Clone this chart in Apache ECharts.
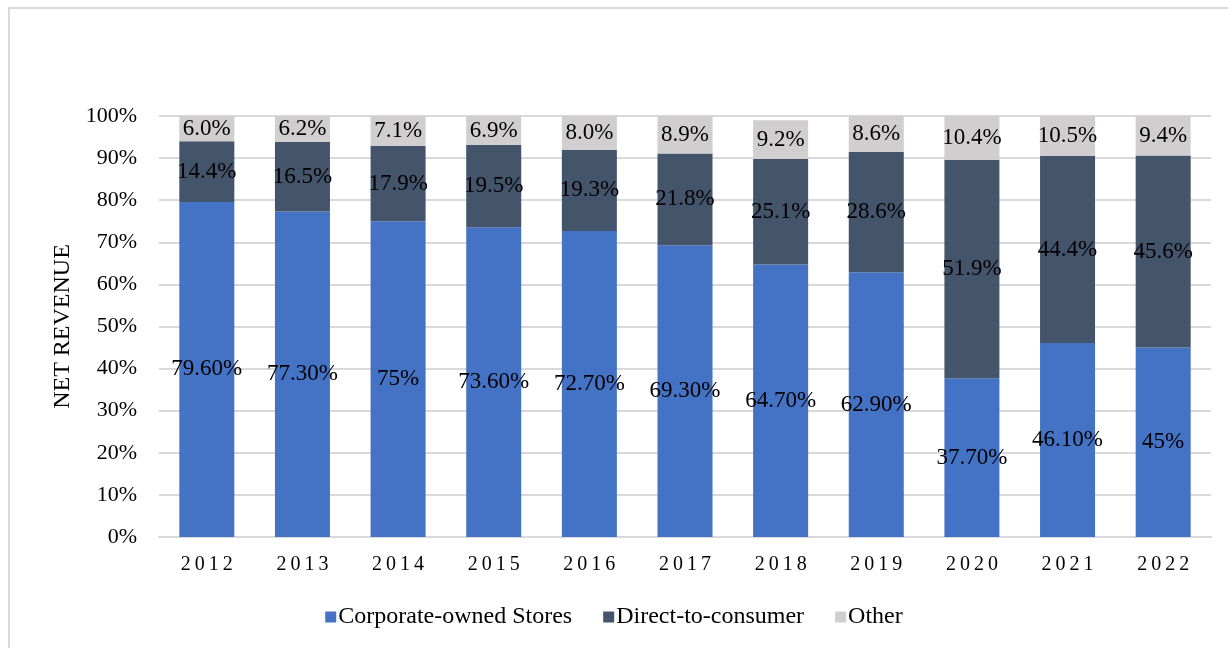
<!DOCTYPE html>
<html>
<head>
<meta charset="utf-8">
<script src="https://cdn.jsdelivr.net/npm/echarts@6/dist/echarts.min.js"></script>
<style>
  html, body { margin: 0; padding: 0; background: #fff; }
  #frame { position: absolute; left: 8px; top: 7px; width: 1240px; height: 660px; border: 2px solid #d9d9d9; }
  #chart { position: absolute; left: 0; top: 0; width: 1228px; height: 648px; }
</style>
</head>
<body>
<div id="frame"></div>
<div id="chart"></div>
<script>
  var years = ['2012', '2013', '2014', '2015', '2016', '2017', '2018', '2019', '2020', '2021', '2022'];
  var corporate = [79.6, 77.3, 75, 73.6, 72.7, 69.3, 64.7, 62.9, 37.7, 46.1, 45];
  var corporateLabels = ['79.60%', '77.30%', '75%', '73.60%', '72.70%', '69.30%', '64.70%', '62.90%', '37.70%', '46.10%', '45%'];
  var direct = [14.4, 16.5, 17.9, 19.5, 19.3, 21.8, 25.1, 28.6, 51.9, 44.4, 45.6];
  var other = [6.0, 6.2, 7.1, 6.9, 8.0, 8.9, 9.2, 8.6, 10.4, 10.5, 9.4];

  var serif = '"Liberation Serif", "Times New Roman", serif';

  // 数据标签
  var labelStyle = {
    show: true,
    position: 'inside',
    color: '#000',
    fontFamily: serif,
    fontSize: 23
  };

  var chart = echarts.init(document.getElementById('chart'));
  chart.setOption({
    animation: false,
    grid: { left: 159, right: 17, top: 116, bottom: 111 },
    legend: {
      bottom: 14,
      left: 'center',
      itemWidth: 11,
      itemHeight: 11,
      itemGap: 31,
      icon: 'rect',
      textStyle: { fontFamily: serif, fontSize: 24, color: '#000', padding: [0, 0, 0, -3] },
      data: ['Corporate-owned Stores', 'Direct-to-consumer', 'Other']
    },
    xAxis: {
      type: 'category',
      data: years,
      axisLine: { lineStyle: { color: '#d9d9d9', width: 2 } },
      axisTick: { show: false },
      axisLabel: {
        margin: 18,
        fontFamily: serif,
        fontSize: 20,
        color: '#000',
        formatter: function (v) { return v.split('').join('\u2009'); }
      }
    },
    yAxis: {
      type: 'value',
      min: 0,
      max: 100,
      interval: 10,
      name: 'NET REVENUE',
      nameLocation: 'middle',
      nameGap: 84,
      nameTextStyle: { fontFamily: serif, fontSize: 24, color: '#000' },
      axisLine: { show: false },
      axisTick: { show: false },
      splitLine: { lineStyle: { color: '#d9d9d9', width: 2 } },
      axisLabel: {
        margin: 22,
        fontFamily: serif,
        fontSize: 22,
        color: '#000',
        formatter: '{value}%'
      }
    },
    series: [
      {
        name: 'Corporate-owned Stores',
        type: 'bar',
        stack: 'total',
        barWidth: 55,
        itemStyle: { color: '#4472C4' },
        label: Object.assign({}, labelStyle, {
          formatter: function (p) { return corporateLabels[p.dataIndex]; }
        }),
        data: corporate
      },
      {
        name: 'Direct-to-consumer',
        type: 'bar',
        stack: 'total',
        barWidth: 55,
        itemStyle: { color: '#44546A' },
        label: Object.assign({}, labelStyle, {
          formatter: function (p) { return p.value.toFixed(1) + '%'; }
        }),
        data: direct
      },
      {
        name: 'Other',
        type: 'bar',
        stack: 'total',
        barWidth: 55,
        itemStyle: { color: '#D0CECE' },
        label: Object.assign({}, labelStyle, {
          formatter: function (p) { return p.value.toFixed(1) + '%'; }
        }),
        data: other
      }
    ]
  });
</script>
</body>
</html>
